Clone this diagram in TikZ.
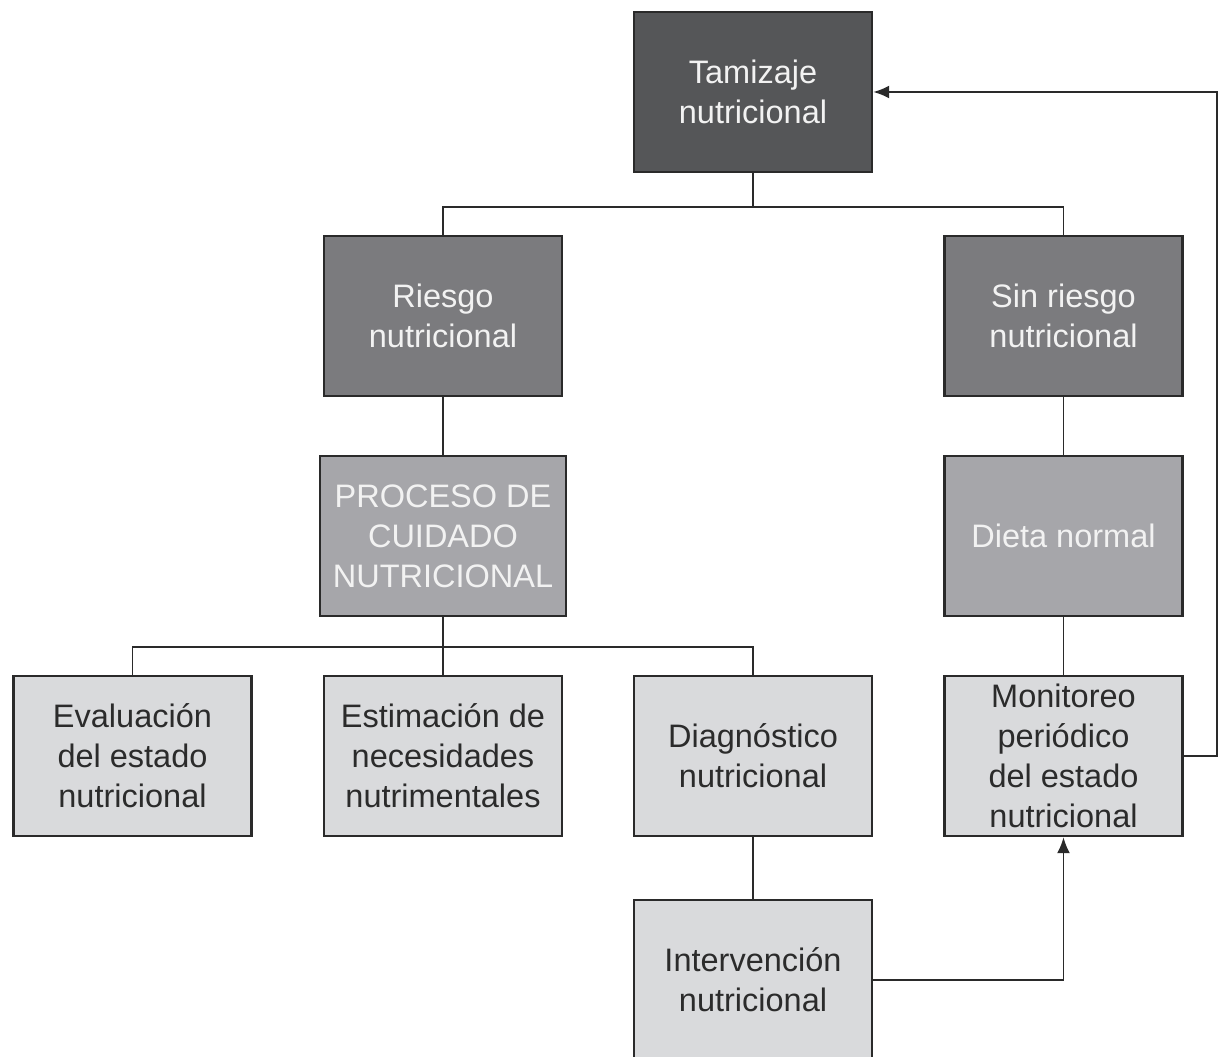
\documentclass[tikz,border=0pt]{standalone}
\usepackage{fontspec}
\setmainfont{Liberation Sans}
\usetikzlibrary{arrows.meta}
\definecolor{boxdark}{HTML}{555658}
\definecolor{boxmid}{HTML}{7B7B7E}
\definecolor{boxsoft}{HTML}{A6A6AA}
\definecolor{boxlight}{HTML}{D9DADC}
\definecolor{edgeline}{HTML}{2A2A2A}
\definecolor{darktext}{HTML}{2B2B2B}
\definecolor{lighttext}{HTML}{F2F2F2}
\begin{document}
\begin{tikzpicture}[x=0.02cm,y=-0.02cm,
  box/.style={draw=edgeline, line width=1.4pt, minimum width=4.76cm, minimum height=3.2cm,
    inner sep=0pt, align=center, font=\fontsize{18.5}{22.7}\selectfont},
  darkbox/.style={box, fill=boxdark, text=lighttext},
  midbox/.style={box, fill=boxmid, text=lighttext},
  softbox/.style={box, fill=boxsoft, text=lighttext},
  lightbox/.style={box, fill=boxlight, text=darktext},
  link/.style={draw=edgeline, line width=1.1pt},
  arrowlink/.style={link, -{Latex[length=3.2mm,width=2.6mm]}}]
\useasboundingbox (0,0) rectangle (1218,1057);
\fill[white] (0,0) rectangle (1218,1057);

% first level
\node[darkbox] (tam) at (753,92) {Tamizaje\\nutricional};
\node[midbox] (ries) at (443,316) {Riesgo\\nutricional};
\node[midbox] (sin) at (1063.5,316) {Sin riesgo\\nutricional};

% second level
\node[softbox, minimum width=4.92cm] (proc) at (443,536) {PROCESO DE\\CUIDADO\\NUTRICIONAL};
\node[softbox] (dieta) at (1063.5,536) {Dieta normal};

% care process steps
\node[lightbox] (eval) at (132.5,756) {Evaluación\\del estado\\nutricional};
\node[lightbox] (esti) at (443,756) {Estimación de\\necesidades\\nutrimentales};
\node[lightbox] (diag) at (753,756) {Diagnóstico\\nutricional};
\node[lightbox] (moni) at (1063.5,756) {Monitoreo\\periódico\\del estado\\nutricional};
\node[lightbox] (inter) at (753,980) {Intervención\\nutricional};

% branch under the screening box
\coordinate (j1) at (753,207);
\draw[link] (tam.south) -- (j1);
\draw[link] (j1) -| (ries.north);
\draw[link] (j1) -| (sin.north);

\draw[link] (ries.south) -- (proc.north);
\draw[link] (sin.south) -- (dieta.north);
\draw[link] (dieta.south) -- (moni.north);

% branch under the care process box
\coordinate (j2) at (443,647);
\draw[link] (proc.south) -- (j2);
\draw[link] (j2) -| (eval.north);
\draw[link] (j2) -| (esti.north);
\draw[link] (j2) -| (diag.north);

\draw[link] (diag.south) -- (inter.north);

% feedback arrows
\draw[arrowlink] (inter.east) -| (moni.south);
\coordinate (r1) at (1217,756);
\coordinate (r2) at (1217,92);
\draw[arrowlink] (moni.east) -- (r1) -- (r2) -- (tam.east);
\end{tikzpicture}
\end{document}
